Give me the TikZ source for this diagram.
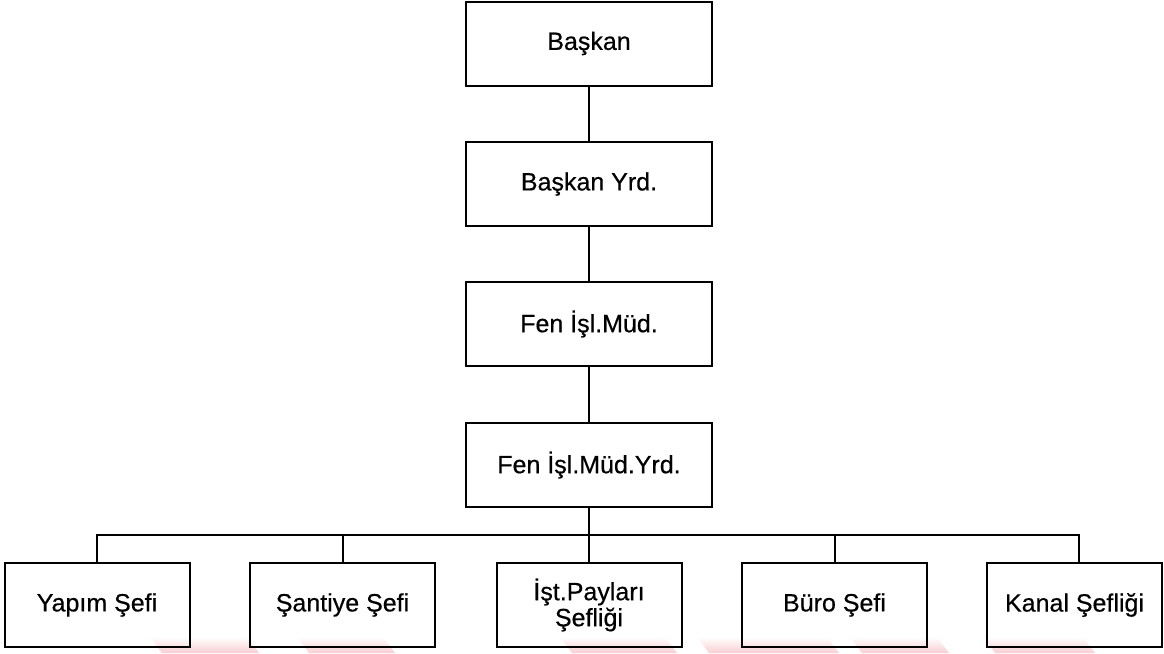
\documentclass[tikz,border=0pt]{standalone}
\usepackage{fontspec}
\setmainfont{Liberation Sans}
\newfontfamily\labelfont{Liberation Sans}[FakeBold=0.5]
\definecolor{wmpink}{RGB}{248,206,211}
\begin{document}
\begin{tikzpicture}[x=1pt,y=-1pt,
  orgbox/.style={draw, line width=2pt, minimum height=84pt, inner sep=0pt,
    align=center, font=\labelfont\fontsize{25}{26}\selectfont},
  wide/.style={orgbox, minimum width=246pt},
  unit/.style={orgbox, minimum width=185pt},
  link/.style={line width=2pt}]
\useasboundingbox (0,0) rectangle (1164,653);

% faint watermark bands along the bottom edge
\foreach \a/\b in {150/247, 297/383, 560/665, 697/827, 850/937, 983/1083}{
  \shade[top color=white, bottom color=wmpink]
    (\a,637) -- (\b,637) -- (\b+12,653) -- (\a+12,653) -- cycle;
}

% management chain
\node[wide] (baskan) at (589,43.5) {Başkan};
\node[wide] (byrd)   at (589,184)  {Başkan Yrd.};
\node[wide] (fen)    at (589,324)  {Fen İşl.Müd.};
\node[wide] (fenyrd) at (589,465)  {Fen İşl.Müd.Yrd.};

% units
\node[unit] (yapim)   at (97,605)    {Yapım Şefi};
\node[unit] (santiye) at (342.5,605) {Şantiye Şefi};
\node[unit] (istpay)  at (589,605)   {İşt.Payları\\Şefliği};
\node[unit] (buro)    at (834.5,605) {Büro Şefi};
\node[unit, minimum width=175pt] (kanal) at (1074.5,605) {Kanal Şefliği};

\draw[link] (baskan) -- (byrd);
\draw[link] (byrd) -- (fen);
\draw[link] (fen) -- (fenyrd);

% distribution bus
\coordinate (bus) at (589,535);
\coordinate (kanaltop) at ([xshift=4.5pt]kanal.north);
\draw[link] (fenyrd.south) -- (istpay.north);
\draw[link] (yapim.north) |- (bus) -| (kanaltop);
\draw[link] (santiye.north) -- (santiye.north |- bus);
\draw[link] (buro.north) -- (buro.north |- bus);
\end{tikzpicture}
\end{document}
